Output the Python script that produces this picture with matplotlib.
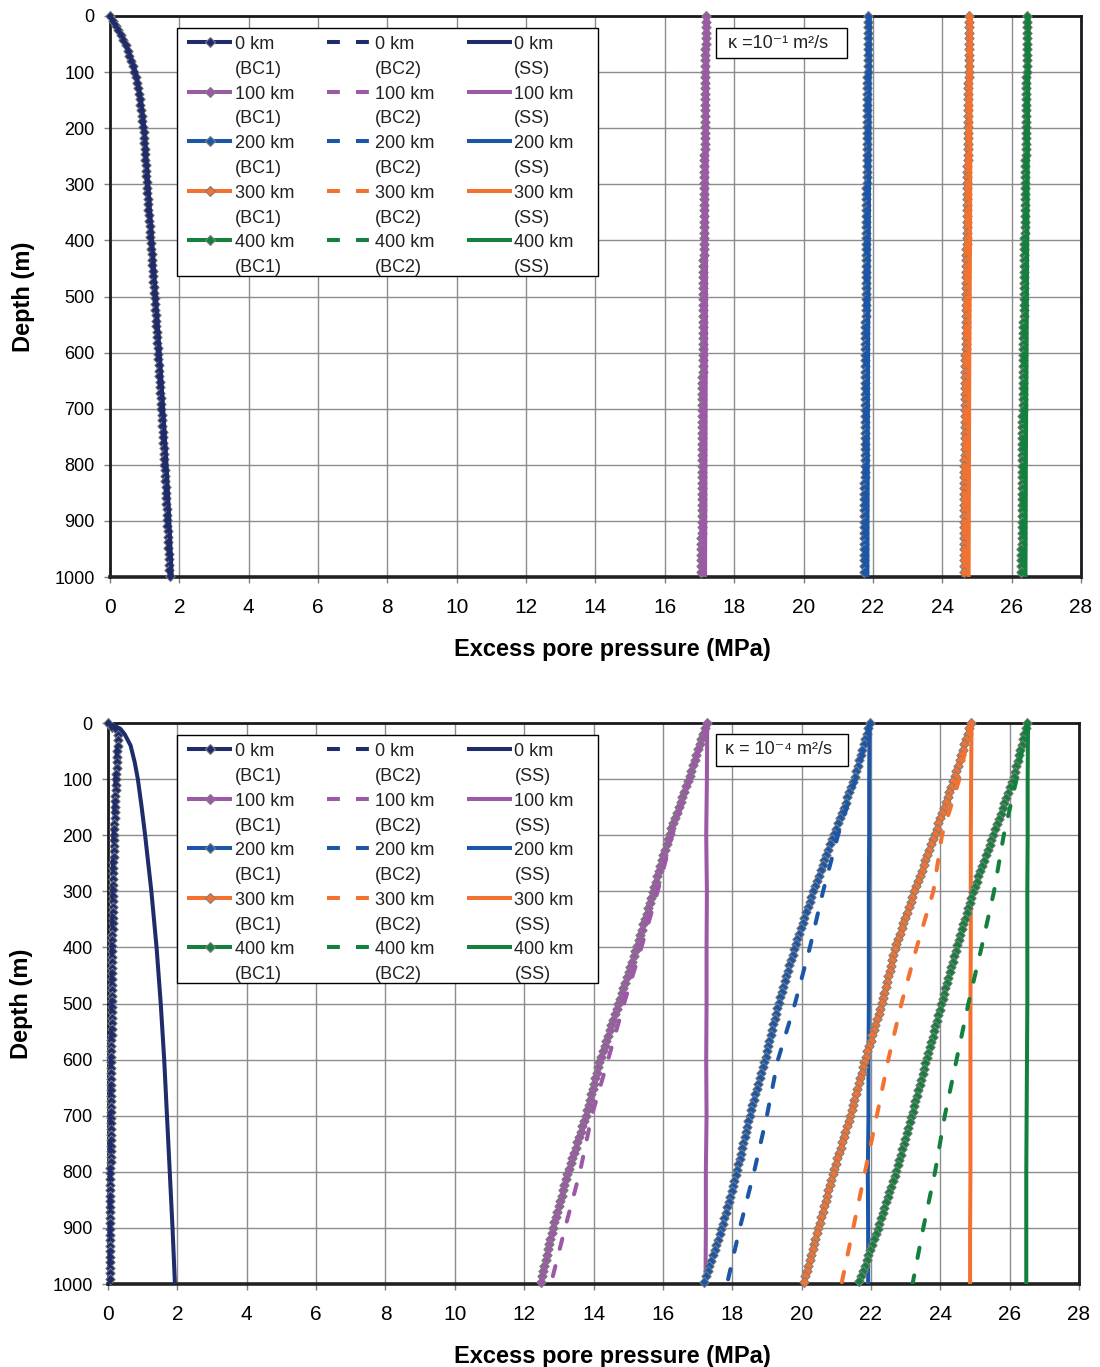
import numpy as np
import matplotlib
matplotlib.use("Agg")
import matplotlib.pyplot as plt
import matplotlib.colors as mcolors
from matplotlib.lines import Line2D
from matplotlib.patches import Rectangle
from matplotlib.path import Path
from matplotlib.transforms import Affine2D, IdentityTransform
from matplotlib.patheffects import AbstractPathEffect, Normal
from matplotlib.legend_handler import HandlerLine2D

plt.rcParams['font.family'] = ['Liberation Sans', 'DejaVu Sans']

# ---------------------------------------------------------------- data
distances = ['0 km', '100 km', '200 km', '300 km', '400 km']
conditions = ['BC1', 'BC2', 'SS']
colors = ['#1f2c6b', '#9b59a6', '#1c56a6', '#f47230', '#13803d']
x_ticks = list(range(0, 29, 2))
y_ticks = list(range(0, 1001, 100))

# kappa = 1e-1 m2/s
depth_a_0km = [0, 20, 40, 60, 100, 150, 200, 300, 400, 500, 600, 700, 800, 900, 1000]
a_0km_bc1 = [0, 0.19, 0.36, 0.50, 0.71, 0.86, 0.96, 1.06, 1.17, 1.28, 1.38, 1.48, 1.57, 1.65, 1.72]
a_0km_bc2 = [0, 0.19, 0.37, 0.51, 0.72, 0.87, 0.97, 1.07, 1.18, 1.29, 1.39, 1.49, 1.58, 1.66, 1.73]
a_0km_ss = [0, 0.20, 0.38, 0.52, 0.74, 0.89, 0.99, 1.10, 1.21, 1.32, 1.43, 1.53, 1.63, 1.71, 1.78]

depth_a = [0, 200, 400, 600, 800, 1000]
a_100km_bc1 = [17.18, 17.15, 17.12, 17.09, 17.07, 17.05]
a_100km_bc2 = [17.19, 17.16, 17.13, 17.11, 17.09, 17.07]
a_100km_ss = [17.23, 17.21, 17.19, 17.18, 17.17, 17.16]
a_200km_bc1 = [21.86, 21.83, 21.80, 21.78, 21.76, 21.74]
a_200km_bc2 = [21.87, 21.84, 21.81, 21.79, 21.77, 21.76]
a_200km_ss = [21.91, 21.90, 21.88, 21.86, 21.85, 21.84]
a_300km_bc1 = [24.78, 24.74, 24.70, 24.67, 24.64, 24.62]
a_300km_bc2 = [24.79, 24.75, 24.71, 24.68, 24.66, 24.64]
a_300km_ss = [24.83, 24.81, 24.80, 24.78, 24.77, 24.76]
a_400km_bc1 = [26.45, 26.41, 26.37, 26.33, 26.30, 26.28]
a_400km_bc2 = [26.46, 26.42, 26.38, 26.35, 26.32, 26.30]
a_400km_ss = [26.49, 26.47, 26.45, 26.43, 26.41, 26.40]

# kappa = 1e-4 m2/s
depth_b_0km = [0, 15, 30, 60, 100, 150, 200, 300, 500, 700, 1000]
b_0km_bc1 = [0, 0.30, 0.29, 0.26, 0.23, 0.20, 0.17, 0.14, 0.11, 0.08, 0.05]
b_0km_bc2 = [0, 0.29, 0.28, 0.25, 0.22, 0.19, 0.16, 0.13, 0.10, 0.07, 0.05]
depth_b_0km_ss = [0, 10, 20, 40, 70, 100, 150, 200, 300, 400, 500, 600, 700, 800, 900, 1000]
b_0km_ss = [0, 0.35, 0.48, 0.65, 0.77, 0.86, 0.97, 1.07, 1.25, 1.40, 1.52, 1.62, 1.70, 1.78, 1.86, 1.93]

depth_b = [0, 100, 200, 300, 400, 500, 600, 700, 800, 900, 1000]
b_100km_bc1 = [17.26, 16.74, 16.18, 15.72, 15.24, 14.72, 14.19, 13.78, 13.26, 12.83, 12.46]
b_100km_bc2 = [17.26, 16.78, 16.27, 15.85, 15.38, 14.88, 14.42, 13.95, 13.61, 13.18, 12.77]
b_100km_ss = [17.28, 17.27, 17.25, 17.27, 17.26, 17.26, 17.25, 17.26, 17.24, 17.24, 17.23]
b_200km_bc1 = [21.97, 21.52, 20.92, 20.33, 19.80, 19.33, 18.94, 18.50, 18.13, 17.70, 17.17]
b_200km_bc2 = [21.97, 21.56, 21.05, 20.62, 20.24, 19.81, 19.32, 19.00, 18.63, 18.22, 17.85]
b_200km_ss = [21.96, 21.95, 21.95, 21.94, 21.94, 21.94, 21.93, 21.93, 21.91, 21.92, 21.92]
b_300km_bc1 = [24.88, 24.39, 23.83, 23.25, 22.70, 22.31, 21.83, 21.40, 20.92, 20.48, 20.05]
b_300km_bc2 = [24.88, 24.55, 24.05, 23.80, 23.32, 22.88, 22.50, 22.17, 21.83, 21.49, 21.15]
b_300km_ss = [24.90, 24.89, 24.88, 24.88, 24.88, 24.87, 24.87, 24.87, 24.87, 24.86, 24.86]
b_400km_bc1 = [26.50, 26.10, 25.52, 24.95, 24.47, 24.03, 23.60, 23.17, 22.72, 22.20, 21.64]
b_400km_bc2 = [26.50, 26.20, 25.83, 25.55, 25.19, 24.81, 24.47, 24.13, 23.85, 23.51, 23.20]
b_400km_ss = [26.53, 26.52, 26.52, 26.51, 26.51, 26.51, 26.50, 26.49, 26.48, 26.48, 26.48]

# (depth, pressure) per distance and boundary condition
panel_a = [
    [(depth_a_0km, a_0km_bc1), (depth_a_0km, a_0km_bc2), (depth_a_0km, a_0km_ss)],
    [(depth_a, a_100km_bc1), (depth_a, a_100km_bc2), (depth_a, a_100km_ss)],
    [(depth_a, a_200km_bc1), (depth_a, a_200km_bc2), (depth_a, a_200km_ss)],
    [(depth_a, a_300km_bc1), (depth_a, a_300km_bc2), (depth_a, a_300km_ss)],
    [(depth_a, a_400km_bc1), (depth_a, a_400km_bc2), (depth_a, a_400km_ss)],
]
panel_b = [
    [(depth_b_0km, b_0km_bc1), (depth_b_0km, b_0km_bc2), (depth_b_0km_ss, b_0km_ss)],
    [(depth_b, b_100km_bc1), (depth_b, b_100km_bc2), (depth_b, b_100km_ss)],
    [(depth_b, b_200km_bc1), (depth_b, b_200km_bc2), (depth_b, b_200km_ss)],
    [(depth_b, b_300km_bc1), (depth_b, b_300km_bc2), (depth_b, b_300km_ss)],
    [(depth_b, b_400km_bc1), (depth_b, b_400km_bc2), (depth_b, b_400km_ss)],
]

LW = 2.9
MARKER_EDGE = '#7f7f7f'
BC2_DASH = (0, (2.6, 4.4))


class DiamondTrail(AbstractPathEffect):
    """Diamond symbols laid along a line at a fixed on-screen spacing."""

    def __init__(self, face, edge=MARKER_EDGE, spacing=4.0, half_w=3.4,
                 half_h=3.7, edge_w=0.7):
        super().__init__()
        self.face = mcolors.to_rgb(face)
        self.edge = edge
        self.spacing = spacing
        self.half_w = half_w
        self.half_h = half_h
        self.edge_w = edge_w

    def draw_path(self, renderer, gc, tpath, affine, rgbFace=None):
        verts = affine.transform(tpath.vertices)
        seg = np.hypot(*np.diff(verts, axis=0).T)
        s = np.concatenate([[0.0], np.cumsum(seg)])
        step = renderer.points_to_pixels(self.spacing)
        t = np.arange(0.0, s[-1] + 1e-6, step)
        pts = np.column_stack([np.interp(t, s, verts[:, 0]),
                               np.interp(t, s, verts[:, 1])])
        diamond = Path([(0, 1), (1, 0), (0, -1), (-1, 0), (0, 1)], closed=True)
        mtrans = Affine2D().scale(renderer.points_to_pixels(self.half_w),
                                  renderer.points_to_pixels(self.half_h))
        gc0 = renderer.new_gc()
        gc0.copy_properties(gc)
        gc0.set_foreground(self.edge)
        gc0.set_linewidth(self.edge_w)
        gc0.set_dashes(0, None)
        gc0.set_joinstyle('miter')
        renderer.draw_markers(gc0, diamond, mtrans, Path(pts),
                              IdentityTransform(), self.face)
        gc0.restore()


class HandlerFirstLine(HandlerLine2D):
    """Legend line handle aligned with the first line of a two-line label."""

    def __init__(self, shift, **kw):
        super().__init__(**kw)
        self.shift = shift

    def create_artists(self, legend, orig_handle, xdescent, ydescent,
                       width, height, fontsize, trans):
        arts = super().create_artists(legend, orig_handle, xdescent, ydescent,
                                      width, height, fontsize, trans)
        for a in arts:
            a.set_ydata(np.asarray(a.get_ydata(), float) + self.shift * fontsize)
        return arts


def draw_panel(ax, panel, kappa_text, legend_box, box, label_x):
    z = 3
    for di, group in enumerate(panel):
        c = colors[di]
        for ci, (depth, p) in enumerate(group):
            if conditions[ci] == 'BC1':
                ax.plot(p, depth, color=c, lw=LW, zorder=z, clip_on=False,
                        solid_capstyle='butt',
                        path_effects=[Normal(), DiamondTrail(c)])
            elif conditions[ci] == 'BC2':
                ax.plot(p, depth, color=c, lw=LW, ls=BC2_DASH, zorder=z,
                        dash_capstyle='round')
            else:
                ax.plot(p, depth, color=c, lw=LW, zorder=z,
                        solid_capstyle='butt')
            z += 0.01

    ax.set_xlim(0, 28)
    ax.set_ylim(1000, 0)
    ax.set_xticks(x_ticks)
    ax.set_yticks(y_ticks)
    ax.set_axisbelow(True)
    ax.grid(True, color='#8c8c8c', lw=1.0)
    for side in ['left', 'right', 'top']:
        ax.spines[side].set_linewidth(2.0)
        ax.spines[side].set_color('#1a1a1a')
    ax.spines['bottom'].set_linewidth(2.6)
    ax.spines['bottom'].set_color('#222222')
    ax.tick_params(axis='x', labelsize=15, length=4, width=1, color='#7f7f7f',
                   pad=11, direction='out')
    ax.tick_params(axis='y', labelsize=13, length=4, width=1, color='#7f7f7f',
                   pad=7, direction='out')
    ax.set_xlabel('Excess pore pressure (MPa)', fontsize=17, fontweight='bold',
                  labelpad=15)
    ax.xaxis.label.set_x(label_x)
    ax.set_ylabel('Depth (m)', fontsize=17, fontweight='bold', labelpad=14)

    handles, labels = [], []
    for ci, cond in enumerate(conditions):
        for di, dist in enumerate(distances):
            c = colors[di]
            if cond == 'BC1':
                h = Line2D([], [], color=c, lw=LW, marker='D', ms=5.5, mfc=c,
                           mec=MARKER_EDGE, mew=0.8, solid_capstyle='butt')
            elif cond == 'BC2':
                h = Line2D([], [], color=c, lw=LW, ls=(0, (3.2, 4.0)),
                           dash_capstyle='butt')
            else:
                h = Line2D([], [], color=c, lw=LW, solid_capstyle='butt')
            handles.append(h)
            labels.append(f'{dist}\n({cond})')

    # legend frame drawn as a plain box, contents placed inside it
    lx0, lx1, ly0, ly1 = legend_box
    ax.add_patch(Rectangle((lx0, ly0), lx1 - lx0, ly1 - ly0,
                           transform=ax.transAxes, fc='white', ec='black',
                           lw=1.0, zorder=9))
    leg = ax.legend(handles, labels, ncol=3, loc='upper left',
                    bbox_to_anchor=(lx0 + 0.002, ly1), borderaxespad=0,
                    fontsize=13, handlelength=2.5, handletextpad=0.15,
                    columnspacing=1.8, labelspacing=0.43, borderpad=0.45,
                    frameon=False,
                    handler_map={Line2D: HandlerFirstLine(0.84)})
    leg.set_zorder(10)
    for t in leg.get_texts():
        t.set_linespacing(1.6)
        t.set_color('#222222')

    x0, x1, y0, y1 = box
    ax.add_patch(Rectangle((x0, y0), x1 - x0, y1 - y0, transform=ax.transAxes,
                           fc='white', ec='black', lw=1.0, zorder=11))
    ax.text(x0 + 0.473 * (x1 - x0), 0.5 * (y0 + y1), kappa_text,
            transform=ax.transAxes, fontsize=13, ha='center', va='center',
            zorder=12, color='#222222')


fig = plt.figure(figsize=(11, 13.67), dpi=100)
ax_a = fig.add_axes([0.1, 0.5779, 0.8827, 0.4104])
ax_b = fig.add_axes([0.0982, 0.0607, 0.8827, 0.4104])

draw_panel(ax_a, panel_a, 'κ =10⁻¹ m²/s',
           (0.0690, 0.5026, 0.5365, 0.9786),
           (0.6241, 0.7590, 0.9251, 0.9786), 0.517)
draw_panel(ax_b, panel_b, 'κ = 10⁻⁴ m²/s',
           (0.0711, 0.5046, 0.5365, 0.9786),
           (0.6262, 0.7621, 0.9234, 0.9804), 0.519)

fig.savefig('out.png', dpi=100, facecolor='white')
